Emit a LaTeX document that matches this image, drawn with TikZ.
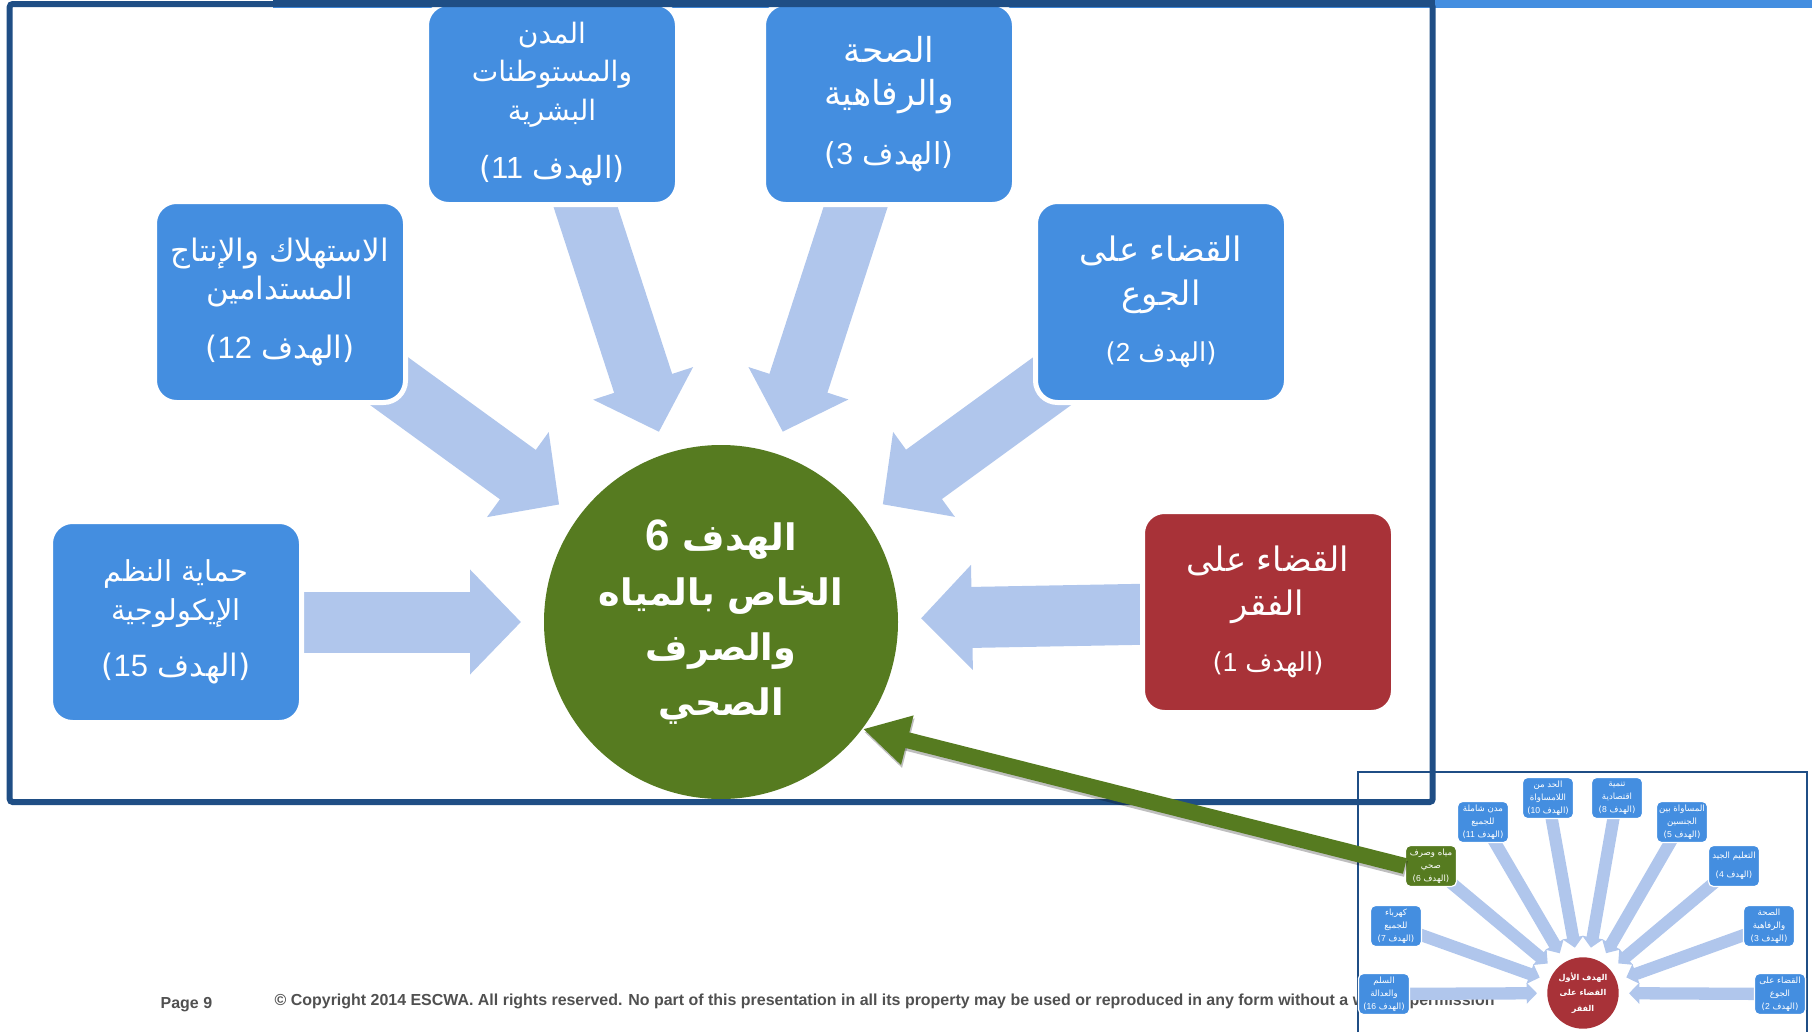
\documentclass[tikz,border=0pt]{standalone}
\usepackage{fontspec}
\usetikzlibrary{arrows.meta,backgrounds}
\TeXXeTstate=1
\newfontfamily\arabicfont[Script=Arabic]{DejaVu Sans}
\newfontfamily\latinfont{Liberation Sans}
\definecolor{goalblue}{RGB}{68,142,224}
\definecolor{goalred}{RGB}{168,50,56}
\definecolor{goalgreen}{RGB}{86,123,32}
\definecolor{arrowblue}{RGB}{176,198,236}
\definecolor{framenavy}{RGB}{31,78,133}
\definecolor{footgray}{RGB}{80,80,80}
\newcommand{\arline}[1]{\beginR #1\endR}
\newcommand{\goaltag}[1]{\beginR(الهدف \beginL{\latinfont #1}\endL)\endR}
\newcommand{\bigtag}[2]{{\fontsize{#1}{9}\selectfont\goaltag{#2}}}
\tikzset{
  goalbox/.style={rounded corners=.22cm, draw=white, line width=.05cm, fill=goalblue,
      minimum width=2.51cm, minimum height=2.01cm, inner sep=0pt, align=center, text=white,
      font=\arabicfont\fontsize{#1}{10.95}\selectfont},
  minibox/.style={rounded corners=.05cm, draw=white, line width=.012cm, fill=goalblue,
      minimum width=.51cm, minimum height=.41cm, inner sep=0pt, align=center, text=white,
      font=\arabicfont\fontsize{2.45}{3.7}\selectfont},
  bigarrow/.style={draw=arrowblue, line width=.61cm,
      -{Triangle[length=.51cm,width=1.02cm]}, shorten >=2cm},
  miniarrow/.style={draw=arrowblue, line width=.123cm,
      -{Triangle[length=.103cm,width=.204cm]}, shorten >=.46cm},
  linkarrow/.style={line width=.16cm, -{Triangle[length=.458cm,width=.475cm]}},
  footnote text/.style={anchor=base west, inner sep=0pt, text=footgray,
      font=\latinfont\bfseries\fontsize{4.54}{5.5}\selectfont}
}
\begin{document}
\begin{tikzpicture}
\useasboundingbox (0,0) rectangle (18.12,10.32);
% large goals
\node[goalbox=8] (box11) at (5.52,9.28)
      {\arline{المدن}\\\arline{والمستوطنات}\\\arline{البشرية}\\[.2cm]\bigtag{8.7}{11}};
\node[goalbox=9.8] (box3) at (8.89,9.28)
      {\arline{الصحة}\\[.05cm]\arline{والرفاهية}\\[.2cm]\bigtag{8.6}{3}};
\node[goalbox=8.8] (box12) at (2.80,7.30)
      {\arline{الاستهلاك والإنتاج}\\\arline{المستدامين}\\[.2cm]\bigtag{8.8}{12}};
\node[goalbox=9.6] (box2) at (11.61,7.30)
      {\arline{القضاء على}\\[.05cm]\arline{الجوع}\\[.18cm]\bigtag{7.4}{2}};
\node[goalbox=8.2] (box15) at (1.76,4.10)
      {\arline{حماية النظم}\\\arline{الإيكولوجية}\\[.18cm]\bigtag{8.8}{15}};
\node[goalbox=9.6, fill=goalred] (box1) at (12.68,4.20)
      {\arline{القضاء على}\\[.05cm]\arline{الفقر}\\[.18cm]\bigtag{7.4}{1}};
\node[circle, fill=goalgreen, minimum size=3.54cm, inner sep=0pt, align=center, text=white,
      font=\arabicfont\bfseries\fontsize{10.4}{15.65}\selectfont] (goal) at (7.21,4.10)
      {\beginR الهدف \beginL{\latinfont\fontsize{12.5}{15}\selectfont 6}\endL\endR\\\arline{الخاص بالمياه}\\\arline{والصرف}\\\arline{الصحي}};
% small panel
\node[minibox] (mini16) at (13.84,.38) {\arline{السلم}\\\arline{والعدالة}\\\goaltag{16}};
\node[minibox] (mini7) at (13.96,1.06) {\arline{كهرباء}\\\arline{للجميع}\\\goaltag{7}};
\node[minibox, fill=goalgreen] (mini6) at (14.31,1.66) {\arline{مياه وصرف}\\\arline{صحي}\\\goaltag{6}};
\node[minibox] (mini11) at (14.83,2.10) {\arline{مدن شاملة}\\\arline{للجميع}\\\goaltag{11}};
\node[minibox] (mini10) at (15.48,2.34) {\arline{الحد من}\\\arline{اللامساواة}\\\goaltag{10}};
\node[minibox] (mini8) at (16.17,2.34) {\arline{تنمية}\\\arline{اقتصادية}\\\goaltag{8}};
\node[minibox] (mini5) at (16.82,2.10) {\arline{المساواة بين}\\\arline{الجنسين}\\\goaltag{5}};
\node[minibox] (mini4) at (17.34,1.66) {\arline{التعليم الجيد}\\[.06cm]\goaltag{4}};
\node[minibox] (mini3) at (17.69,1.06) {\arline{الصحة}\\\arline{والرفاهية}\\\goaltag{3}};
\node[minibox] (mini2) at (17.80,.38) {\arline{القضاء على}\\\arline{الجوع}\\\goaltag{2}};
\node[circle, fill=goalred, minimum size=.714cm, inner sep=0pt, align=center, text=white,
      font=\arabicfont\bfseries\fontsize{2.3}{4.5}\selectfont] (minigoal) at (15.83,.39)
      {\arline{الهدف الأول}\\\arline{القضاء على}\\\arline{الفقر}};
\coordinate (panelbl) at (13.58,0);
\coordinate (paneltl) at (13.58,2.60);
\coordinate (paneltr) at (18.07,2.60);
\coordinate (panelbr) at (18.07,0);
\begin{scope}[on background layer]
\fill[goalblue] (2.73,10.32) rectangle (18.12,10.24);
\node[footnote text] (pagenum) at (1.60,.24) {Page 9};
\node[footnote text] (copyright) at (2.74,.27)
      {© Copyright 2014 ESCWA. All rights reserved. No part of this presentation in all its property may be used or reproduced in any form without a written permission};
\draw[bigarrow] (box15.center) -- (goal.center);
\draw[bigarrow] (box12.center) -- (goal.center);
\draw[bigarrow] (box11.center) -- (goal.center);
\draw[bigarrow] (box3.center) -- (goal.center);
\draw[bigarrow] (box2.center) -- (goal.center);
\draw[bigarrow] (box1.center) -- (goal.center);
\draw[framenavy, line width=.013cm] (panelbl) -- (paneltl) -- (paneltr) -- (panelbr);
\draw[miniarrow] (mini16.center) -- (minigoal.center);
\draw[miniarrow] (mini7.center) -- (minigoal.center);
\draw[miniarrow] (mini6.center) -- (minigoal.center);
\draw[miniarrow] (mini11.center) -- (minigoal.center);
\draw[miniarrow] (mini10.center) -- (minigoal.center);
\draw[miniarrow] (mini8.center) -- (minigoal.center);
\draw[miniarrow] (mini5.center) -- (minigoal.center);
\draw[miniarrow] (mini4.center) -- (minigoal.center);
\draw[miniarrow] (mini3.center) -- (minigoal.center);
\draw[miniarrow] (mini2.center) -- (minigoal.center);
\end{scope}
% outer frame, on top of the boxes
\draw[framenavy, line width=.06cm, rounded corners=.03cm] (.097,10.28) rectangle (14.327,2.30);
\fill[framenavy] (2.73,10.32) rectangle (14.35,10.25);
% link from the small panel
\draw[linkarrow, black, opacity=.25, transform canvas={shift={(.01cm,-.03cm)}}] (mini6.west) -- (goal.-37);
\draw[linkarrow, goalgreen] (mini6.west) -- (goal.-37);
\end{tikzpicture}
\end{document}
